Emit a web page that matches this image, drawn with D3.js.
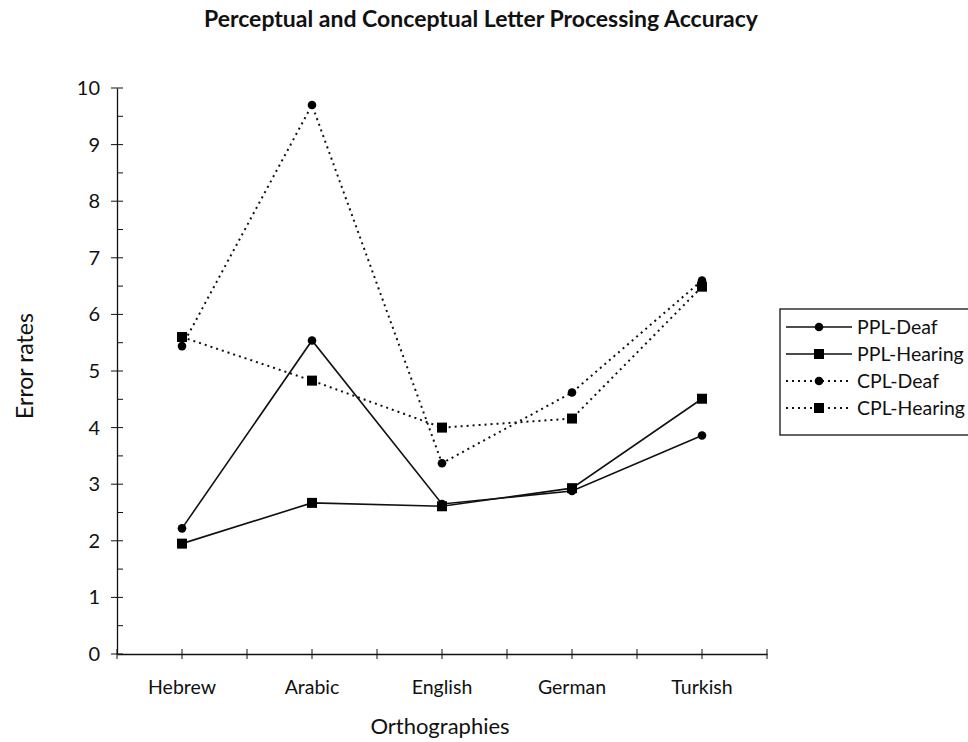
<!DOCTYPE html>
<html>
<head>
<meta charset="utf-8">
<script src="https://cdn.jsdelivr.net/npm/d3@7"></script>
<style>
  body { margin: 0; background: #fff; }
  text { font-family: Lato, "Open Sans", sans-serif; fill: #111; }
</style>
</head>
<body>
<div class="chart"></div>
<script>
// categories & series values
var categories = ['Hebrew', 'Arabic', 'English', 'German', 'Turkish'];
var pplDeaf    = [2.22, 5.54, 2.65, 2.88, 3.86];
var pplHearing = [1.95, 2.67, 2.61, 2.93, 4.51];
var cplDeaf    = [5.44, 9.70, 3.37, 4.62, 6.60];
var cplHearing = [5.60, 4.83, 4.00, 4.16, 6.49];
var yTicks = [0, 1, 2, 3, 4, 5, 6, 7, 8, 9, 10];

var series = [
    { name: 'PPL-Deaf',    values: pplDeaf,    dotted: false, marker: 'circle' },
    { name: 'PPL-Hearing', values: pplHearing, dotted: false, marker: 'square' },
    { name: 'CPL-Deaf',    values: cplDeaf,    dotted: true,  marker: 'circle' },
    { name: 'CPL-Hearing', values: cplHearing, dotted: true,  marker: 'square' }
];

var W = 968, H = 742;
var margin = { top: 88, right: 201, bottom: 88, left: 117 };
var width  = W - margin.left - margin.right;   // plot area
var height = H - margin.top - margin.bottom;

var svg = d3.select('.chart').append('svg')
    .attr('width', W)
    .attr('height', H);

// title
svg.append('text')
    .attr('x', 481)
    .attr('y', 27)
    .attr('text-anchor', 'middle')
    .style('font-size', '23px')
    .style('font-weight', 'bold')
    .text('Perceptual and Conceptual Letter Processing Accuracy');

var g = svg.append('g')
    .attr('transform', `translate(${margin.left}, ${margin.top})`);

// scales
var x = d3.scaleBand()
    .domain(categories)
    .range([0, width])
    .padding(0);
var y = d3.scaleLinear()
    .domain([0, 10])
    .range([height, 0]);

var cx = (d) => { return x(d) + x.bandwidth() / 2; };

// y axis: major ticks cross the line, minor ticks inside
var yAxis = g.append('g')
    .call(d3.axisLeft(y).tickValues(yTicks).tickSize(0).tickPadding(17));
yAxis.select('.domain').attr('stroke', '#111').attr('stroke-width', 1.3);
yAxis.selectAll('text').style('font-size', '20px');
g.selectAll('.ymajor')
    .data(yTicks)
    .enter().append('line')
    .attr('x1', -6).attr('x2', 6)
    .attr('y1', (d) => { return y(d); })
    .attr('y2', (d) => { return y(d); })
    .attr('stroke', '#111');
g.selectAll('.yminor')
    .data(yTicks.slice(0, -1).map((d) => { return d + 0.5; }))
    .enter().append('line')
    .attr('x1', 0).attr('x2', 6)
    .attr('y1', (d) => { return y(d); })
    .attr('y2', (d) => { return y(d); })
    .attr('stroke', '#111');

// x axis
var xAxis = g.append('g')
    .attr('transform', `translate(0, ${height})`)
    .call(d3.axisBottom(x).tickSize(0).tickPadding(26));
xAxis.select('.domain').attr('stroke', '#111').attr('stroke-width', 1.3);
xAxis.selectAll('text').style('font-size', '19.5px');

var xTickPos = [];
categories.forEach((c) => { xTickPos.push(x(c)); xTickPos.push(cx(c)); });
xTickPos.push(width);
g.selectAll('.xtick')
    .data(xTickPos)
    .enter().append('line')
    .attr('x1', (d) => { return d; })
    .attr('x2', (d) => { return d; })
    .attr('y1', height - 5)
    .attr('y2', height + 5)
    .attr('stroke', '#111');

// axis titles
svg.append('text')
    .attr('x', 440)
    .attr('y', 734)
    .attr('text-anchor', 'middle')
    .style('font-size', '22px')
    .text('Orthographies');
svg.append('text')
    .attr('transform', 'translate(33, 366) rotate(-90)')
    .attr('text-anchor', 'middle')
    .style('font-size', '23px')
    .text('Error rates');

// lines
var line = d3.line()
    .x((d, i) => { return cx(categories[i]); })
    .y((d) => { return y(d); });

function drawMarker(sel, type) {
    if (type === 'circle') {
        sel.append('circle').attr('r', 4.3).attr('fill', '#000');
    } else {
        sel.append('rect')
            .attr('x', -5).attr('y', -5)
            .attr('width', 10).attr('height', 10)
            .attr('fill', '#000');
    }
}

series.forEach((s) => {
    g.append('path')
        .datum(s.values)
        .attr('d', line)
        .attr('fill', 'none')
        .attr('stroke', '#111')
        .attr('stroke-width', s.dotted ? 2 : 1.6)
        .attr('stroke-dasharray', s.dotted ? '2,4' : null);

    g.selectAll(null)
        .data(s.values)
        .enter().append('g')
        .attr('transform', (d, i) => {
            return `translate(${cx(categories[i])}, ${y(d)})`;
        })
        .each(function() { drawMarker(d3.select(this), s.marker); });
});

// legend
var legend = svg.append('g').attr('transform', 'translate(780, 309)');
legend.append('rect')
    .attr('width', 200).attr('height', 126)
    .attr('fill', '#fff')
    .attr('stroke', '#111')
    .attr('stroke-width', 1.3);

series.forEach((s, i) => {
    var row = legend.append('g')
        .attr('transform', `translate(0, ${18 + i * 27})`);
    row.append('line')
        .attr('x1', 6).attr('x2', 72)
        .attr('stroke', '#111')
        .attr('stroke-width', s.dotted ? 2 : 1.6)
        .attr('stroke-dasharray', s.dotted ? '2,4' : null);
    var m = row.append('g').attr('transform', 'translate(39, 0)');
    drawMarker(m, s.marker);
    row.append('text')
        .attr('x', 77)
        .attr('dy', '0.35em')
        .style('font-size', '19.5px')
        .text(s.name);
});
</script>
</body>
</html>
